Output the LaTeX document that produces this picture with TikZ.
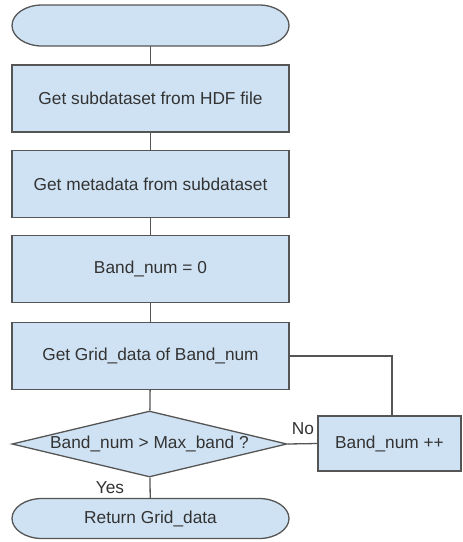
\documentclass[tikz,border=0pt]{standalone}
\usepackage{fontspec}
\setmainfont{Liberation Sans}
\usetikzlibrary{shapes.geometric}
\definecolor{boxfill}{HTML}{CFE2F3}
\definecolor{edge}{HTML}{555555}
\definecolor{ink}{HTML}{333333}
\begin{document}
\begin{tikzpicture}[x=1pt,y=-1pt,
  every node/.style={font=\fontsize{17.3}{20}\selectfont, text=ink},
  outline/.style={draw=edge, line width=1.3pt, fill=boxfill},
  procbox/.style={outline, minimum width=277pt, minimum height=67pt, inner sep=0pt},
  terminal/.style={minimum width=277pt, minimum height=41pt, inner sep=0pt},
  decision/.style={outline, diamond, aspect=4.2, minimum width=275pt, minimum height=66pt, inner sep=0pt},
  link/.style={draw=edge, line width=1.3pt}]
\useasboundingbox (0,0) rectangle (463,542);
% terminator outlines with elliptic ends
\path[outline] (42,5) -- (259,5) arc[start angle=90, end angle=-90, x radius=30pt, y radius=20.5pt]
  -- (42,46) arc[start angle=270, end angle=90, x radius=30pt, y radius=20.5pt] -- cycle;
\path[outline] (42,498.5) -- (259,498.5) arc[start angle=90, end angle=-90, x radius=30pt, y radius=20pt]
  -- (42,538.5) arc[start angle=270, end angle=90, x radius=30pt, y radius=20pt] -- cycle;
\node[terminal] (start) at (150.5,25.5) {};
\node[procbox] (hdf) at (150.5,98.5) {Get subdataset from HDF file};
\node[procbox] (meta) at (150.5,184) {Get metadata from subdataset};
\node[procbox] (zero) at (150.5,269) {Band\_num = 0};
\node[procbox] (grid) at (150.5,356) {Get Grid\_data of Band\_num};
\node[decision] (cmp) at (149.5,444) {Band\_num > Max\_band ?};
\node[outline, minimum width=143pt, minimum height=55pt, inner sep=0pt] (inc) at (389.5,443.5) {Band\_num ++};
\node[terminal, minimum height=40pt] (ret) at (150.5,518.5) {Return Grid\_data};
\node (no) at (303,429) {No};
\node (yes) at (110,488) {Yes};
\draw[link] (start) -- (hdf);
\draw[link] (hdf) -- (meta);
\draw[link] (meta) -- (zero);
\draw[link] (zero) -- (grid);
\draw[link] (grid) -- (cmp);
\draw[link] (cmp) -- (ret);
\draw[link] (cmp.east) -- (inc.west);
\draw[link] (inc.north -| 392,0) |- (grid.east);
\end{tikzpicture}
\end{document}
